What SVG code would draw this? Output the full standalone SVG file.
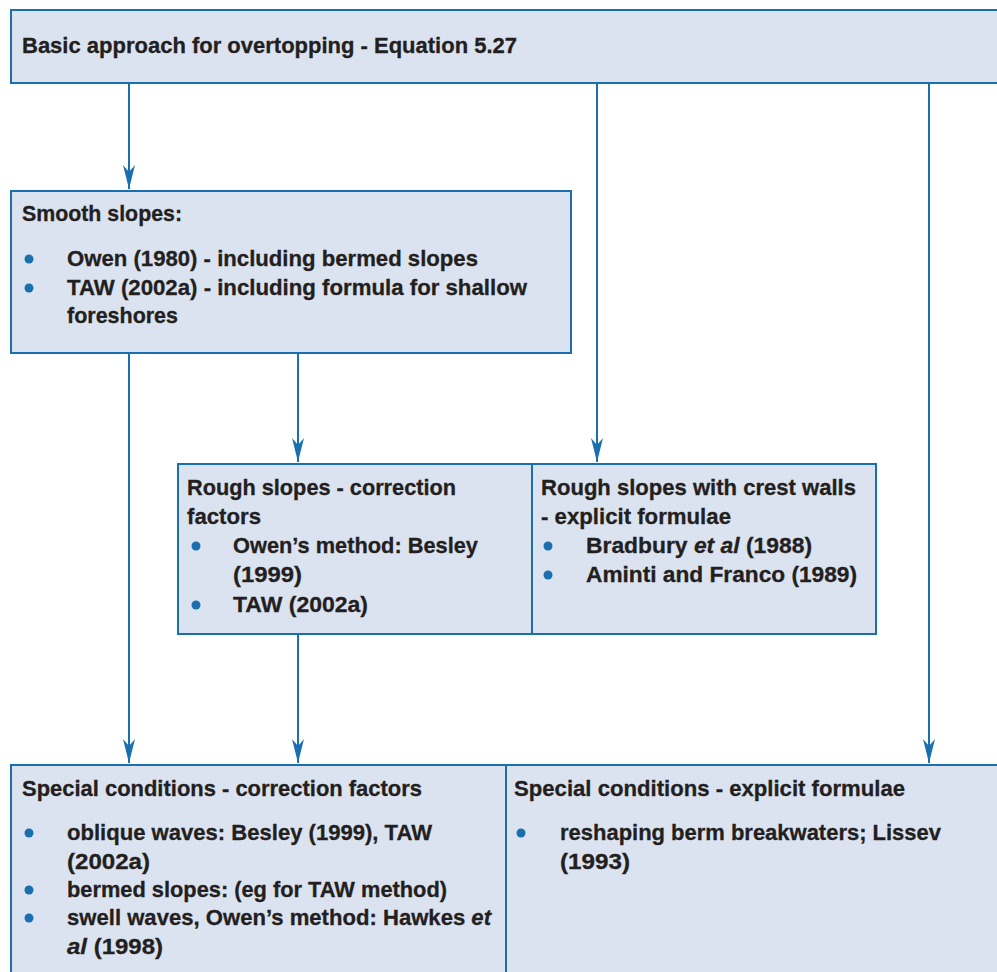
<svg xmlns="http://www.w3.org/2000/svg" width="997" height="972" viewBox="0 0 997 972">
<defs>
<marker id="ah" markerUnits="userSpaceOnUse" markerWidth="28" markerHeight="16" viewBox="-26 -8 28 16" refX="0" refY="0" orient="auto">
<path d="M0,0 L-24,-6 L-17,0 L-24,6 Z" fill="#1a6faf"/>
</marker>
<style>
.box{fill:#dce3f0;stroke:#1a6faf;stroke-width:2}
.t{font-family:"Liberation Sans",Arial,sans-serif;font-weight:bold;font-size:22px;fill:#231f20;stroke:#231f20;stroke-width:0.3}
.i{font-style:italic}
.b{fill:#1a6faf}
.c{stroke:#1a6faf;stroke-width:2;fill:none}
</style>
</defs>
<rect width="997" height="972" fill="#fff"/>
<g id="connectors">
<path class="c" d="M129,83 V189" marker-end="url(#ah)"/>
<path class="c" d="M597,83 V462" marker-end="url(#ah)"/>
<path class="c" d="M929,83 V763" marker-end="url(#ah)"/>
<path class="c" d="M129,353 V763" marker-end="url(#ah)"/>
<path class="c" d="M298,353 V462" marker-end="url(#ah)"/>
<path class="c" d="M298,634 V763" marker-end="url(#ah)"/>
</g>
<g id="basic">
<rect class="box" x="11" y="10" width="1000" height="73"/>
<text class="t" x="22" y="53" textLength="495" lengthAdjust="spacingAndGlyphs">Basic approach for overtopping - Equation 5.27</text>
</g>
<g id="smooth">
<rect class="box" x="11" y="191" width="560" height="162"/>
<text class="t" x="22" y="221" textLength="160" lengthAdjust="spacingAndGlyphs">Smooth slopes:</text>
<circle class="b" cx="29" cy="259" r="4.5"/>
<text class="t" x="67" y="266" textLength="411" lengthAdjust="spacingAndGlyphs">Owen (1980) - including bermed slopes</text>
<circle class="b" cx="29" cy="288" r="4.5"/>
<text class="t" x="67" y="295" textLength="460" lengthAdjust="spacingAndGlyphs">TAW (2002a) - including formula for shallow</text>
<text class="t" x="67" y="323" textLength="111" lengthAdjust="spacingAndGlyphs">foreshores</text>
</g>
<g id="rough">
<rect class="box" x="178" y="464" width="354" height="170"/>
<text class="t" x="187" y="495" textLength="269" lengthAdjust="spacingAndGlyphs">Rough slopes - correction</text>
<text class="t" x="187" y="524" textLength="74" lengthAdjust="spacingAndGlyphs">factors</text>
<circle class="b" cx="196" cy="546" r="4.5"/>
<text class="t" x="233" y="553" textLength="245" lengthAdjust="spacingAndGlyphs">Owen’s method: Besley</text>
<text class="t" x="233" y="582" textLength="69" lengthAdjust="spacingAndGlyphs">(1999)</text>
<circle class="b" cx="196" cy="605" r="4.5"/>
<text class="t" x="233" y="612" textLength="135" lengthAdjust="spacingAndGlyphs">TAW (2002a)</text>
</g>
<g id="crest">
<rect class="box" x="532" y="464" width="344" height="170"/>
<text class="t" x="541" y="495" textLength="315" lengthAdjust="spacingAndGlyphs">Rough slopes with crest walls</text>
<text class="t" x="541" y="524" textLength="190" lengthAdjust="spacingAndGlyphs">- explicit formulae</text>
<circle class="b" cx="548" cy="546" r="4.5"/>
<text class="t" x="586" y="553" textLength="226" lengthAdjust="spacingAndGlyphs">Bradbury <tspan class="i">et al</tspan> (1988)</text>
<circle class="b" cx="548" cy="575" r="4.5"/>
<text class="t" x="586" y="582" textLength="271" lengthAdjust="spacingAndGlyphs">Aminti and Franco (1989)</text>
</g>
<g id="special-correction">
<rect class="box" x="11" y="765" width="495" height="220"/>
<text class="t" x="22" y="796" textLength="400" lengthAdjust="spacingAndGlyphs">Special conditions - correction factors</text>
<circle class="b" cx="29" cy="833" r="4.5"/>
<text class="t" x="67" y="840" textLength="365" lengthAdjust="spacingAndGlyphs">oblique waves: Besley (1999), TAW</text>
<text class="t" x="67" y="869" textLength="83" lengthAdjust="spacingAndGlyphs">(2002a)</text>
<circle class="b" cx="29" cy="890" r="4.5"/>
<text class="t" x="67" y="897" textLength="380" lengthAdjust="spacingAndGlyphs">bermed slopes: (eg for TAW method)</text>
<circle class="b" cx="29" cy="918" r="4.5"/>
<text class="t" x="67" y="925" textLength="424" lengthAdjust="spacingAndGlyphs">swell waves, Owen’s method: Hawkes <tspan class="i">et</tspan></text>
<text class="t" x="67" y="954" textLength="96" lengthAdjust="spacingAndGlyphs"><tspan class="i">al</tspan> (1998)</text>
</g>
<g id="special-explicit">
<rect class="box" x="506" y="765" width="500" height="220"/>
<text class="t" x="514" y="796" textLength="391" lengthAdjust="spacingAndGlyphs">Special conditions - explicit formulae</text>
<circle class="b" cx="521" cy="833" r="4.5"/>
<text class="t" x="560" y="840" textLength="381" lengthAdjust="spacingAndGlyphs">reshaping berm breakwaters; Lissev</text>
<text class="t" x="560" y="869" textLength="70" lengthAdjust="spacingAndGlyphs">(1993)</text>
</g>
</svg>
